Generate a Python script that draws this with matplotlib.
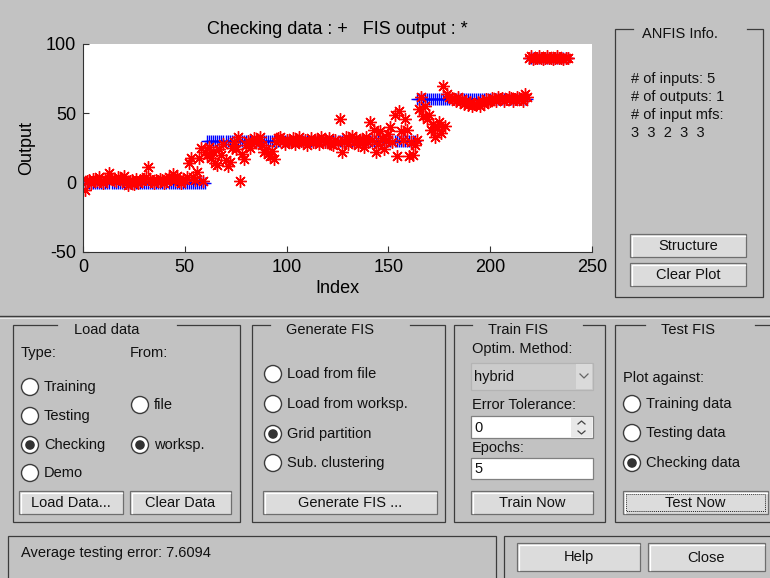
import numpy as np
import matplotlib
matplotlib.use('Agg')
import matplotlib.pyplot as plt
from matplotlib.patches import Rectangle, Circle

plt.rcParams['font.family'] = ['Liberation Sans', 'DejaVu Sans']
plt.rcParams['axes.unicode_minus'] = False

# checking data: step levels and how many samples sit on each level
check_levels = [0, 30, 60, 90]
check_counts = [60, 103, 55, 20]

# FIS output for the same 238 samples
fis_output = [
    # 1-60
    -5, 1, 2, 0, 3, 1, 2, 4, 1, 0, 3, 2, 7, 3, 2, 1, 4, 3, 2, 5,
    0, -2, 1, 2, -1, 3, 0, 2, 1, 3, 4, 11, 3, 1, 0, 2, 1, 3, 2, 0,
    1, 4, 3, 6, 2, 5, 1, 0, 3, 2, 4, 14, 18, 4, 2, 8, 18, 25, 1, 22,
    # 61-122
    20, 26, 18, 22, 14, 13, 24, 20, 28, 16, 12, 15, 25, 29, 24, 33, 1, 21, 17, 27,
    30, 25, 28, 32, 29, 31, 33, 27, 22, 24, 21, 19, 23, 17, 29, 32, 33, 30, 28, 31,
    29, 30, 32, 28, 31, 33, 30, 29, 31, 27, 30, 32, 29, 31, 30, 28, 33, 31, 29, 30,
    32, 28,
    # 123-163
    27, 31, 29, 46, 22, 30, 33, 28, 31, 34, 29, 32, 27, 31, 30, 26, 33, 29, 44, 31,
    38, 22, 28, 37, 32, 24, 30, 35, 40, 29, 49, 19, 52, 37, 31, 46, 38, 19, 29, 20,
    27,
    # 164-180
    31, 53, 62, 48, 55, 46, 49, 38, 42, 33, 40, 44, 36, 70, 41, 64, 62,
    # 181-218
    61, 60, 59, 62, 58, 60, 57, 59, 56, 58, 55, 57, 56, 58, 55, 59, 57, 60, 58, 59,
    61, 60, 59, 62, 60, 61, 59, 60, 62, 61, 59, 60, 62, 61, 60, 59, 64, 62,
    # 219-238
    90, 91, 89, 90, 90, 91, 90, 89, 90, 91, 90, 90, 89, 90, 91, 90, 90, 89, 90, 90,
]

checking = np.repeat(check_levels, check_counts)
index = np.arange(1, len(fis_output) + 1)

BG = '#c2c2c2'
DARK = '#3c3c3c'
FS = 10.5

fig = plt.figure(figsize=(7.7, 5.78), dpi=100, facecolor=BG)

# gui layer in pixel units, origin top-left
g = fig.add_axes([0, 0, 1, 1])
g.set_xlim(0, 770)
g.set_ylim(578, 0)
g.axis('off')


def txt(x, y, s, **kw):
    kw.setdefault('ha', 'left')
    g.text(x, y, s, fontsize=FS, va='center', color='#111111', **kw)


def frame(x0, y0, x1, y1, gap, title, tx):
    g.plot([gap[1], x1, x1, x0, x0, gap[0]], [y0, y0, y1, y1, y0, y0],
           color=DARK, lw=0.9, solid_joinstyle='miter')
    txt(tx, y0 + 5, title, ha='center')


def button(x0, y0, x1, y1, label, focus=False):
    g.add_patch(Rectangle((x0, y0), x1 - x0, y1 - y0, fc='#dcdcdc', ec='#6e6e6e', lw=0.9))
    g.plot([x0 + 1.5, x0 + 1.5, x1 - 1.5], [y1 - 1.5, y0 + 1.5, y0 + 1.5], color='white', lw=0.9)
    if focus:
        g.add_patch(Rectangle((x0 + 3, y0 + 3), x1 - x0 - 6, y1 - y0 - 6,
                              fc='none', ec='#222222', lw=0.7, ls=(0, (1, 1))))
    txt((x0 + x1) / 2, (y0 + y1) / 2 + 0.5, label, ha='center')


def radio(cx, cy, label, on=False):
    g.add_patch(Circle((cx, cy), 8.5, fc='white', ec=DARK, lw=1))
    if on:
        g.add_patch(Circle((cx, cy), 4.8, fc='#333333', ec='none'))
    txt(cx + 14, cy, label)


# separator between plot area and control panels
g.plot([0, 770], [316, 316], color=DARK, lw=1)
g.plot([0, 770], [317.5, 317.5], color='#e8e8e8', lw=0.8)

# ANFIS info panel
frame(615, 29, 763, 297, (633, 747), 'ANFIS Info.', 680)
for k, line in enumerate(['# of inputs: 5', '# of outputs: 1', '# of input mfs:', '3  3  2  3  3']):
    txt(631, 79 + k * 18, line)
button(630, 234, 746, 257, 'Structure')
button(630, 263, 746, 286, 'Clear Plot')

# Load data panel
frame(13, 325, 240, 522, (57, 177), 'Load data', 107)
txt(21, 353, 'Type:')
txt(130, 353, 'From:')
radio(30, 387, 'Training')
radio(30, 416, 'Testing')
radio(30, 445, 'Checking', on=True)
radio(30, 473, 'Demo')
radio(140, 405, 'file')
radio(140, 445, 'worksp.', on=True)
button(19, 491, 123, 514, 'Load Data...')
button(130, 491, 231, 514, 'Clear Data')

# Generate FIS panel
frame(252, 325, 445, 522, (270, 410), 'Generate FIS', 330)
radio(273, 374, 'Load from file')
radio(273, 404, 'Load from worksp.')
radio(273, 434, 'Grid partition', on=True)
radio(273, 463, 'Sub. clustering')
button(263, 491, 437, 514, 'Generate FIS ...')

# Train FIS panel
frame(454, 325, 605, 522, (472, 583), 'Train FIS', 518)
txt(472, 349, 'Optim. Method:')
g.add_patch(Rectangle((471, 363), 122, 27, fc='#cbcbcb', ec='#b4b4b4', lw=0.9))
g.add_patch(Rectangle((576, 364), 16, 25, fc='#dadada', ec='none'))
g.plot([580, 584, 588], [374, 378, 374], color='#666666', lw=0.9)
txt(474, 377, 'hybrid')
txt(472, 405, 'Error Tolerance:')
g.add_patch(Rectangle((471, 416), 122, 22, fc='white', ec='#808080', lw=0.9))
g.add_patch(Rectangle((571, 417), 21, 20, fc='#e8e8e8', ec='none'))
g.plot([578, 581.5, 585], [424, 421, 424], color='#444444', lw=0.9)
g.plot([578, 581.5, 585], [431, 434, 431], color='#444444', lw=0.9)
txt(474, 427.5, '0')
txt(472, 448, 'Epochs:')
g.add_patch(Rectangle((471, 458), 122, 21, fc='white', ec='#808080', lw=0.9))
txt(474, 469, '5')
button(471, 491, 593, 514, 'Train Now')

# Test FIS panel
frame(615, 325, 775, 522, (645, 755), 'Test FIS', 688)
txt(623, 378, 'Plot against:')
radio(632, 404, 'Training data')
radio(632, 433, 'Testing data')
radio(632, 463, 'Checking data', on=True)
button(623, 491, 768, 514, 'Test Now', focus=True)

# status line and help/close buttons
g.add_patch(Rectangle((8, 536), 488, 50, fc=BG, ec=DARK, lw=0.9))
txt(21, 553, 'Average testing error: 7.6094')
g.add_patch(Rectangle((504, 536), 272, 50, fc=BG, ec=DARK, lw=0.9))
button(517, 543, 640, 571, 'Help')
button(648, 543, 765, 571, 'Close')

# data plot
ax = fig.add_axes([83 / 770, 1 - 252 / 578, 509 / 770, 208 / 578])
ax.plot(index, checking, ls='none', marker='+', color='b', ms=8, mew=1.0)
ax.plot(index, fis_output, ls='none', marker=(8, 2, 0), color='r', ms=9, mew=1.0)
ax.set_xlim(0, 250)
ax.set_ylim(-50, 100)
ax.set_xticks([0, 50, 100, 150, 200, 250])
ax.set_yticks([-50, 0, 50, 100])
ax.spines['top'].set_visible(False)
ax.spines['right'].set_visible(False)
for s in ('left', 'bottom'):
    ax.spines[s].set_color('#333333')
    ax.spines[s].set_linewidth(0.8)
ax.tick_params(direction='in', length=4, width=0.8, labelsize=13, pad=5, color='#333333')
ax.set_title('Checking data : +   FIS output : *', fontsize=13, pad=7)
ax.set_xlabel('Index', fontsize=13, labelpad=3)
ax.set_ylabel('Output', fontsize=13, labelpad=8)

fig.savefig('out.png', dpi=100, facecolor=BG)
